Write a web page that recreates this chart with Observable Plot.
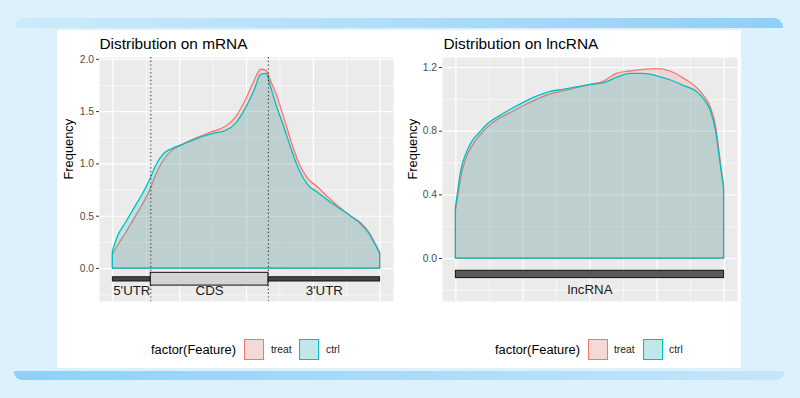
<!DOCTYPE html>
<html>
<head>
<meta charset="utf-8">
<script src="https://cdn.jsdelivr.net/npm/d3@7"></script>
<script src="https://cdn.jsdelivr.net/npm/@observablehq/plot@0.6"></script>
<style>
  html, body { margin: 0; padding: 0; }
  body { width: 800px; height: 398px; position: relative; overflow: hidden; background: #ddf1fc;
         font-family: "Liberation Sans", Arial, sans-serif; }
  .abs { position: absolute; }
  .bar-top { left: 15px; top: 18px; width: 768px; height: 10px; border-radius: 9px 9px 0 0;
             background: linear-gradient(90deg, #cdeafb, #8fd0f8); }
  .bar-bottom { left: 14px; top: 371px; width: 770px; height: 9px; border-radius: 0 0 8px 8px;
             background: linear-gradient(90deg, #8fd0f8, #c4e6fb); }
  .panel { left: 57px; top: 30px; width: 684px; height: 338px; background: #fff; }
  .leg-title { font-size: 12.85px; line-height: 16px; color: #000; white-space: nowrap; }
  .leg-label { font-size: 10.3px; line-height: 14px; color: #1a1a1a; white-space: nowrap; }
  .leg-key { width: 20px; height: 21px; box-sizing: border-box; background: #f2f2f2; }
  .leg-key > div { width: 100%; height: 100%; box-sizing: border-box; }
</style>
</head>
<body>
<div class="abs bar-top"></div>
<div class="abs panel"></div>
<div class="abs bar-bottom"></div>
<div id="charts"></div>
<script>
// ---------- data ----------
const series = ["treat", "ctrl"];
const seriesColors = ["#F8766D", "#00BFC4"];

// mRNA metagene density (relative position 0..1 along 5'UTR-CDS-3'UTR)
const mrnaX = [0, 0.02, 0.05, 0.08, 0.11, 0.142, 0.16, 0.19, 0.22, 0.26, 0.30, 0.34, 0.38, 0.42, 0.46,
  0.50, 0.53, 0.555, 0.575, 0.59, 0.61, 0.64, 0.67, 0.70, 0.73, 0.77, 0.81, 0.85, 0.89, 0.93, 0.96, 0.98, 1.0];
const mrnaTreat = [0.13, 0.22, 0.34, 0.47, 0.60, 0.76, 0.88, 1.03, 1.12, 1.18, 1.23, 1.27, 1.31, 1.35, 1.44,
  1.62, 1.79, 1.90, 1.89, 1.80, 1.68, 1.45, 1.20, 0.99, 0.86, 0.77, 0.67, 0.58, 0.50, 0.43, 0.34, 0.25, 0.14];
const mrnaCtrl = [0.16, 0.31, 0.44, 0.57, 0.70, 0.86, 0.97, 1.09, 1.14, 1.18, 1.22, 1.26, 1.29, 1.31, 1.38,
  1.54, 1.70, 1.85, 1.86, 1.75, 1.58, 1.36, 1.13, 0.93, 0.80, 0.72, 0.64, 0.57, 0.50, 0.42, 0.33, 0.24, 0.15];

// lncRNA metagene density
const lncX = [0, 0.01, 0.02, 0.04, 0.06, 0.09, 0.12, 0.16, 0.2, 0.25, 0.3, 0.35, 0.4, 0.45, 0.5, 0.55,
  0.6, 0.65, 0.7, 0.75, 0.8, 0.85, 0.9, 0.93, 0.95, 0.97, 0.985, 1.0];
const lncTreat = [0.30, 0.40, 0.51, 0.63, 0.70, 0.77, 0.825, 0.875, 0.91, 0.955, 0.995, 1.03, 1.05, 1.07, 1.09, 1.11,
  1.16, 1.175, 1.185, 1.19, 1.175, 1.13, 1.07, 1.01, 0.95, 0.83, 0.64, 0.45];
const lncCtrl = [0.32, 0.44, 0.55, 0.66, 0.73, 0.79, 0.845, 0.89, 0.93, 0.975, 1.015, 1.045, 1.06, 1.075, 1.09, 1.10,
  1.135, 1.16, 1.16, 1.145, 1.12, 1.085, 1.045, 0.99, 0.93, 0.80, 0.62, 0.44];

// gene structure
const mrnaFeature = ["5'UTR", "CDS", "3'UTR"];
const mrnaFeatureStart = [0, 0.142, 0.582];
const mrnaFeatureEnd = [0.142, 0.582, 1];
const lncFeature = ["lncRNA"];
const lncFeatureStart = [0];
const lncFeatureEnd = [1];

// axes
const mrnaYTicks = [0, 0.5, 1.0, 1.5, 2.0];
const mrnaYMinor = [-0.25, 0.25, 0.75, 1.25, 1.75];
const lncYTicks = [0, 0.4, 0.8, 1.2];
const lncYMinor = [-0.2, 0.2, 0.6, 1.0];
const xMajor = [0, 0.25, 0.5, 0.75, 1];
const xMinor = [0.125, 0.375, 0.625, 0.875];

const titles = ["Distribution on mRNA", "Distribution on lncRNA"];
const legendTitle = "factor(Feature)";

// ---------- helpers ----------
const FONT = '"Liberation Sans", Arial, sans-serif';
function longRows(xs, a, b) {
  const rows = [];
  xs.forEach((x, i) => rows.push({x, y: a[i], group: series[0]}));
  xs.forEach((x, i) => rows.push({x, y: b[i], group: series[1]}));
  return rows;
}
function features(names, s, e) {
  return names.map((n, i) => ({name: n, start: s[i], end: e[i]}));
}

function chart(opts) {
  const rows = longRows(opts.xs, opts.treat, opts.ctrl);
  const feats = features(opts.fNames, opts.fStart, opts.fEnd);
  const marks = [
    Plot.frame({fill: "#ebebeb", stroke: "none"}),
    Plot.ruleY(opts.yMinor, {stroke: "#fff", strokeWidth: 0.6}),
    Plot.ruleX(xMinor, {stroke: "#fff", strokeWidth: 0.6}),
    Plot.ruleY(opts.yTicks, {stroke: "#fff", strokeWidth: 1.2}),
    Plot.ruleX(xMajor, {stroke: "#fff", strokeWidth: 1.2}),
  ];
  for (const g of series) {
    marks.push(Plot.areaY(rows.filter(d => d.group === g), {
      x: "x", y: "y", fill: "group", fillOpacity: 0.2, stroke: "group", strokeWidth: 1.3,
      curve: "monotone-x"
    }));
  }
  marks.push(...opts.extra(feats));
  marks.push(
    Plot.axisY({ticks: opts.yTicks, tickSize: 3, tickPadding: 2.5, fontSize: 10.3,
      fill: "#4d4d4d", stroke: "#333", tickFormat: d => d.toFixed(1), label: null}),
    Plot.text(["Frequency"], {text: d => d, frameAnchor: "left", dx: opts.labelDx, rotate: -90,
      fontSize: 12.85, fill: "#000"}),
    Plot.text([opts.title], {text: d => d, frameAnchor: "top-left", dx: opts.titleDx, dy: -9,
      textAnchor: "start", lineAnchor: "bottom", fontSize: 15.4, fill: "#000"})
  );
  const svg = Plot.plot({
    width: opts.width, height: 280,
    marginLeft: opts.ml, marginRight: opts.mr, marginTop: 27, marginBottom: 9,
    x: {domain: [-0.05, 1.05], axis: null},
    y: {domain: opts.yDomain, axis: null},
    color: {domain: series, range: seriesColors},
    style: {fontFamily: FONT, background: "transparent", overflow: "visible"},
    marks
  });
  svg.style.position = "absolute";
  svg.style.left = opts.left + "px";
  svg.style.top = "30px";
  document.getElementById("charts").appendChild(svg);
}

// mRNA chart
chart({
  xs: mrnaX, treat: mrnaTreat, ctrl: mrnaCtrl,
  fNames: mrnaFeature, fStart: mrnaFeatureStart, fEnd: mrnaFeatureEnd,
  yTicks: mrnaYTicks, yMinor: mrnaYMinor, yDomain: [-0.315, 2.017],
  width: 341, ml: 42, mr: 5, left: 57, labelDx: -31, titleDx: 0, title: titles[0],
  extra: feats => {
    const utr = feats.filter(d => d.name !== "CDS");
    const cds = feats.filter(d => d.name === "CDS");
    return [
      Plot.ruleX(cds.flatMap(d => [d.start, d.end]), {stroke: "#333", strokeWidth: 1.1, strokeDasharray: "1.2,2.6"}),
      Plot.rect(utr, {x1: "start", x2: "end", y1: -0.083, y2: -0.124, fill: "#444", stroke: "#111", strokeWidth: 0.9}),
      Plot.rect(cds, {x1: "start", x2: "end", y1: -0.041, y2: -0.163, fill: "#d3d3d3", stroke: "#111", strokeWidth: 1}),
      Plot.text(feats, {x: d => (d.start + d.end) / 2, frameAnchor: "bottom", dy: -11, lineAnchor: "middle",
        text: "name", fontSize: 13.3, fill: "#1a1a1a"})
    ];
  }
});

// lncRNA chart
chart({
  xs: lncX, treat: lncTreat, ctrl: lncCtrl,
  fNames: lncFeature, fStart: lncFeatureStart, fEnd: lncFeatureEnd,
  yTicks: lncYTicks, yMinor: lncYMinor, yDomain: [-0.27, 1.263],
  width: 343, ml: 44, mr: 4, left: 398, labelDx: -30, titleDx: 1, title: titles[1],
  extra: feats => [
    Plot.rect(feats, {x1: "start", x2: "end", y1: -0.077, y2: -0.123, fill: "#595959", stroke: "#111", strokeWidth: 1}),
    Plot.text(feats, {x: d => (d.start + d.end) / 2, frameAnchor: "bottom", dy: -11.5, lineAnchor: "middle",
      text: "name", fontSize: 13.3, fill: "#1a1a1a"})
  ]
});

// ---------- legends ----------
function legend(x0, keyXs, labelXs) {
  const host = document.getElementById("charts");
  const t = document.createElement("div");
  t.className = "abs leg-title";
  t.textContent = legendTitle;
  t.style.left = x0 + "px"; t.style.top = "342px";
  host.appendChild(t);
  series.forEach((s, i) => {
    const k = document.createElement("div");
    k.className = "abs leg-key";
    k.style.left = keyXs[i] + "px"; k.style.top = "339px";
    const inner = document.createElement("div");
    const c = d3.color(seriesColors[i]);
    inner.style.border = "1.2px solid " + seriesColors[i];
    c.opacity = 0.2;
    inner.style.background = c.formatRgb();
    k.appendChild(inner);
    host.appendChild(k);
    const l = document.createElement("div");
    l.className = "abs leg-label";
    l.textContent = s;
    l.style.left = labelXs[i] + "px"; l.style.top = "343px";
    host.appendChild(l);
  });
}
legend(151, [244, 299], [271, 326]);
legend(495, [588, 643], [614, 669]);
</script>
</body>
</html>
